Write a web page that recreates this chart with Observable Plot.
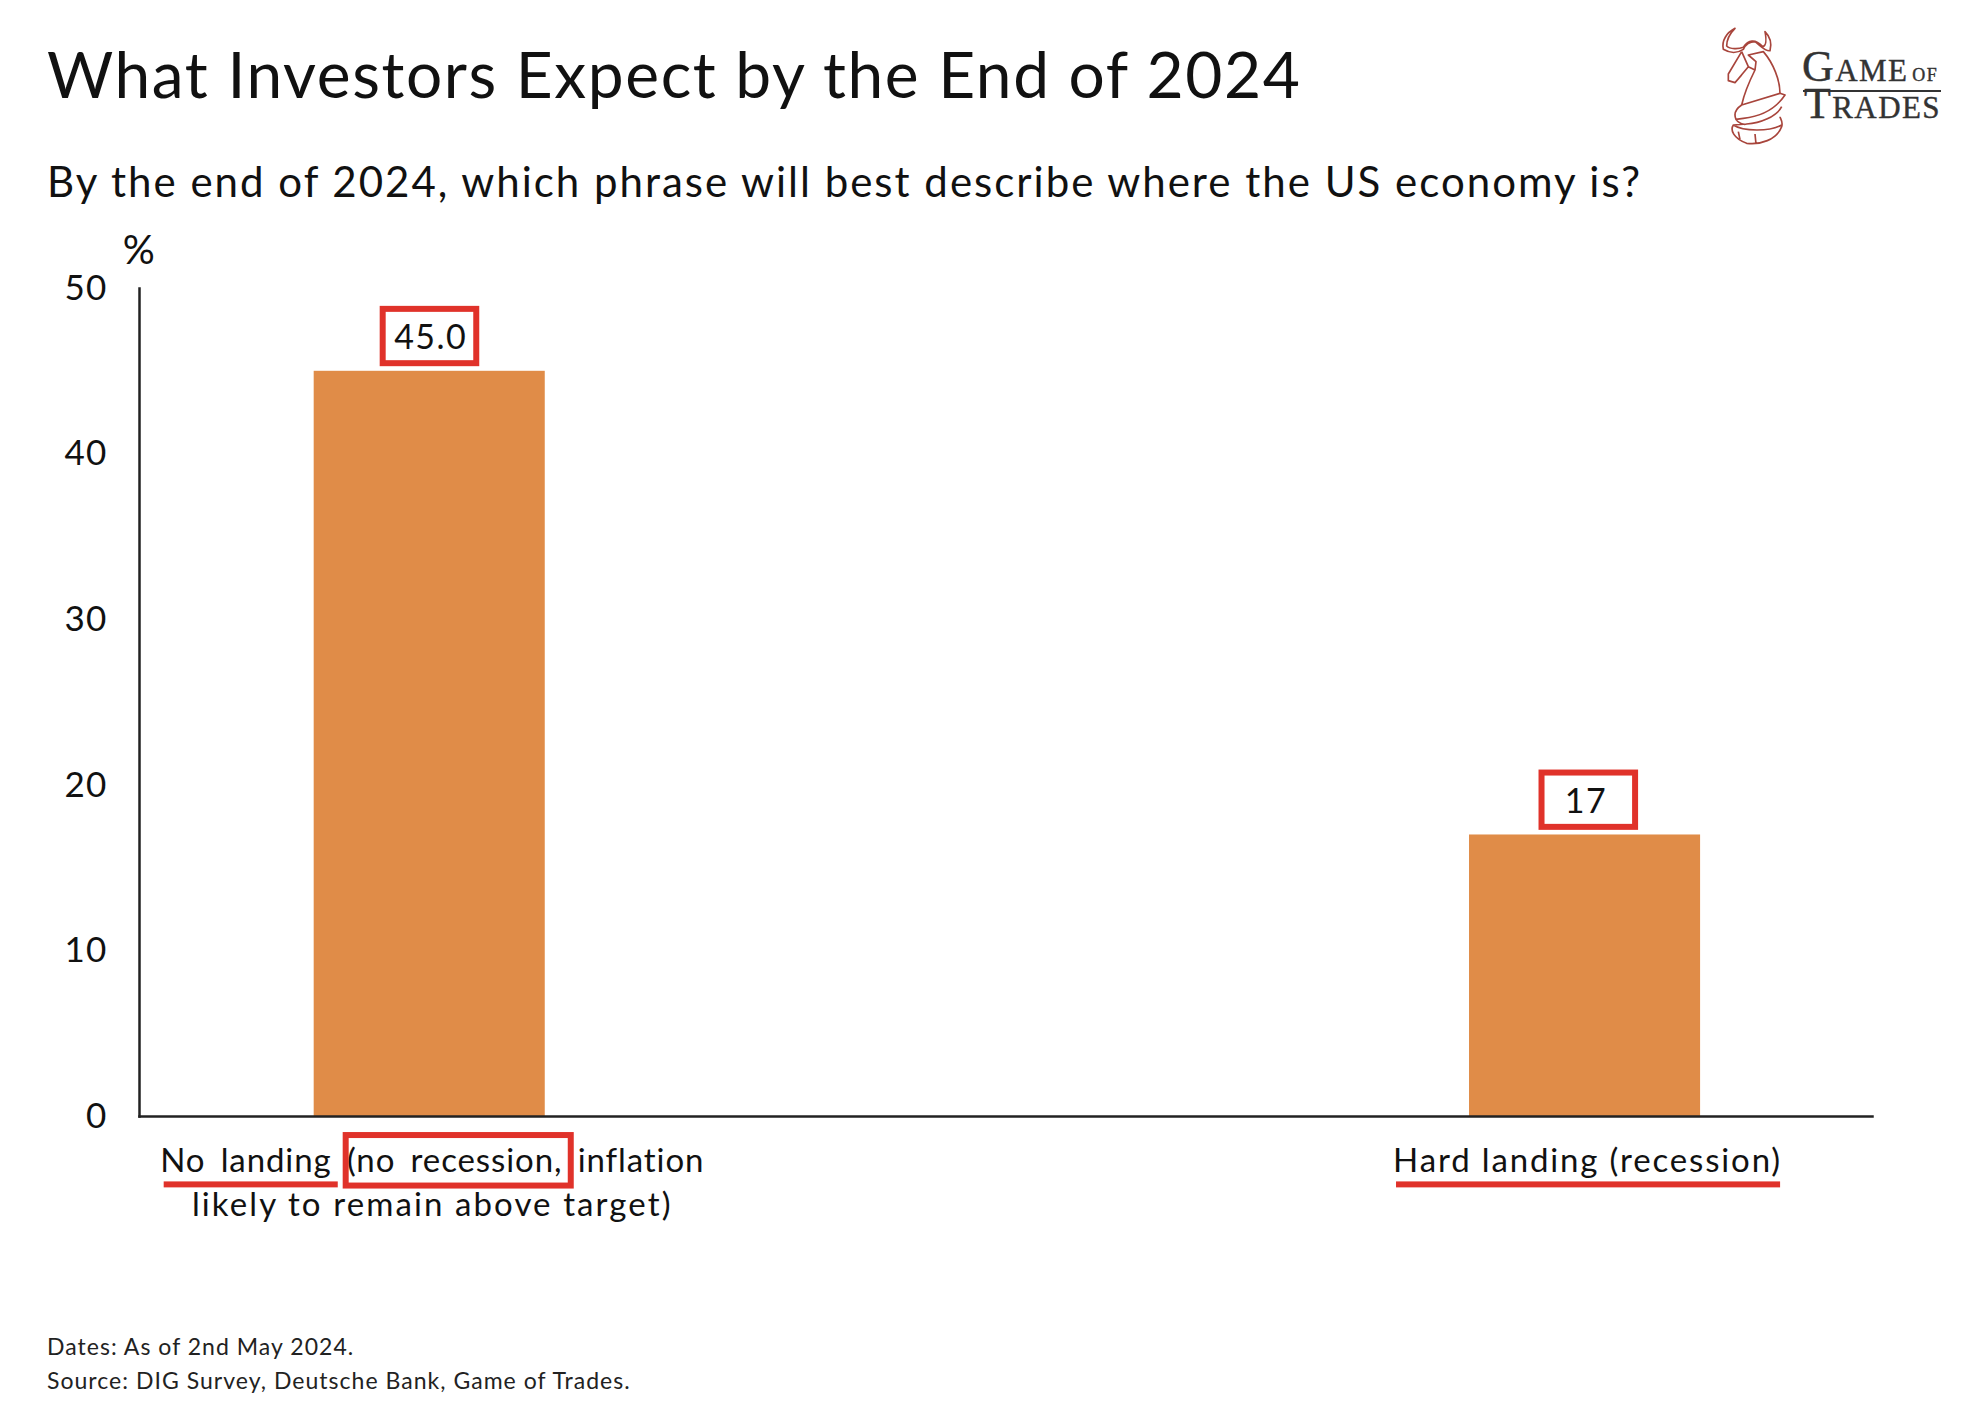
<!DOCTYPE html>
<html><head><meta charset="utf-8">
<script src="https://cdn.jsdelivr.net/npm/d3@7"></script>
<script src="https://cdn.jsdelivr.net/npm/@observablehq/plot@0.6"></script>
<style>
html,body{margin:0;padding:0;background:#fff;width:1978px;height:1420px;overflow:hidden}
body{font-family:Lato,sans-serif;color:#111}
#head{position:relative;height:220px}
#head>*{position:absolute;white-space:nowrap}
#title{left:47px;top:35px;font-size:64px;line-height:78px;font-weight:400;margin:0;letter-spacing:1.6px}
#sub{left:47px;top:152px;font-size:42px;line-height:58px;letter-spacing:2px}
#logoG,#logoT{font-family:"Liberation Serif",serif;color:#333;font-variant:small-caps;line-height:34px;-webkit-text-stroke:.4px #333;letter-spacing:1.4px}
#logoG{left:1802px;top:50px;font-size:44px}
#logoT{left:1804px;top:87px;font-size:44px}
#logoG small{font-size:18px;margin-left:4px}
#chart svg{display:block;overflow:visible}
#chart text{letter-spacing:1.2px}
#chart g[aria-label="x-axis tick label"] text{letter-spacing:1.85px}
#chart g[aria-label="x-axis tick label"] tspan:first-child{letter-spacing:.9px;word-spacing:6px}
#chart g[aria-label="x-axis tick label"] tspan:nth-child(2){letter-spacing:2.1px}
#chart g[aria-label="text"] text{letter-spacing:1.5px}
#foot{margin:69px 0 0 47px;font-size:23px;line-height:34px;letter-spacing:1.03px;color:#222}
</style></head><body>
<div id="head">
  <h1 id="title">What Investors Expect by the End of 2024</h1>
  <div id="sub">By the end of 2024, which phrase will best describe where the US economy is?</div>
  <svg style="left:1680px;top:10px" width="298" height="150" viewBox="0 0 894 450" fill="none" stroke="#a8453c" stroke-width="5" stroke-linejoin="round">
    <path d="M165,55C140,68 124,92 130,118C150,130 172,130 190,118C196,105 210,95 225,95C240,105 255,125 270,122C276,100 270,80 255,65C260,90 258,108 248,110C225,85 205,90 190,112C175,118 150,118 140,108C140,90 150,70 165,55Z"/>
    <path d="M185,125L145,192L145,212L165,218L205,170L225,180L228,155L205,135L250,125C280,160 300,210 300,250L185,285C195,240 215,200 225,180M185,125L205,170M165,218L185,195"/>
    <path d="M185,285C170,295 160,310 168,328L190,325C235,320 285,300 315,255L300,250M168,328C175,340 190,345 200,342C240,340 290,320 305,290M200,342L160,345C150,360 160,385 200,400C240,405 290,390 305,350C310,335 300,325 300,320M160,345C190,365 270,365 305,345M175,365L180,388M225,372L228,402"/>
  </svg>
  <div id="logoG">Game<small>OF</small></div>
  <div style="left:1803px;top:90px;width:138px;height:2px;background:#333"></div>
  <div id="logoT">Trades</div>
</div>
<div id="chart"></div>
<div id="foot">Dates: As of 2nd May 2024.<br>Source: DIG Survey, Deutsche Bank, Game of Trades.</div>
<script>
const categories = ["No landing (no recession, inflation\nlikely to remain above target)", "Hard landing (recession)"];
const values = [45.0, 17];
const valueLabels = ["45.0", "17"];
const yTicks = [0, 10, 20, 30, 40, 50];
const barColor = "#e08c48";
const red = "#e0322a";
const ink = "#222";

const rows = categories.map((c, i) => ({category: c, value: values[i], label: valueLabels[i]}));

const chart = Plot.plot({
  width: 1978, height: 1040,
  marginTop: 68, marginBottom: 144, marginLeft: 139, marginRight: 106,
  style: {fontFamily: "Lato, sans-serif", color: "#111", background: "#fff"},
  x: {domain: categories, paddingInner: 0.8, paddingOuter: 0.15, align: 0.504, round: false, label: null},
  y: {domain: [0, 50], ticks: yTicks, label: null},
  marks: [
    Plot.barY(rows, {x: "category", y: "value", fill: barColor}),
    Plot.frame({anchor: "left", stroke: ink, strokeWidth: 2.5}),
    Plot.frame({anchor: "bottom", stroke: ink, strokeWidth: 2.5}),
    Plot.axisY({ticks: yTicks, tickSize: 0, tickPadding: 32, fontSize: 35, label: null}),
    Plot.axisX({tickSize: 0, tickPadding: 25, fontSize: 33, lineHeight: 1.32, label: null, dx: 2.5}),
    Plot.text(["%"], {text: d => d, frameAnchor: "top-left", textAnchor: "middle", lineAnchor: "middle", dy: -37, fontSize: 40}),
    Plot.text(rows, {x: "category", y: "value", text: "label", dy: -33, dx: 1, fontSize: 34, lineAnchor: "middle"}),
    // red highlight boxes round the value labels
    Plot.barY(rows.slice(0, 1), {x: "category", y1: d => d.value + 0.46, y2: d => d.value + 3.74, insetLeft: 69, insetRight: 68.5, fill: "none", stroke: red, strokeWidth: 6}),
    Plot.barY(rows.slice(1), {x: "category", y1: d => d.value + 0.46, y2: d => d.value + 3.74, insetLeft: 72.5, insetRight: 65, fill: "none", stroke: red, strokeWidth: 6}),
    // red highlights on the category labels
    Plot.barY([categories[0]], {x: d => d, y1: -3.95, y2: -4.31, insetLeft: -150, insetRight: 207, fill: red}),
    Plot.barY([categories[0]], {x: d => d, y1: -1.15, y2: -4.2, insetLeft: 32, insetRight: -26, fill: "none", stroke: red, strokeWidth: 6}),
    Plot.barY([categories[1]], {x: d => d, y1: -3.95, y2: -4.31, insetLeft: -73, insetRight: -80, fill: red})
  ]
});
document.getElementById("chart").append(chart);
</script>
</body></html>
